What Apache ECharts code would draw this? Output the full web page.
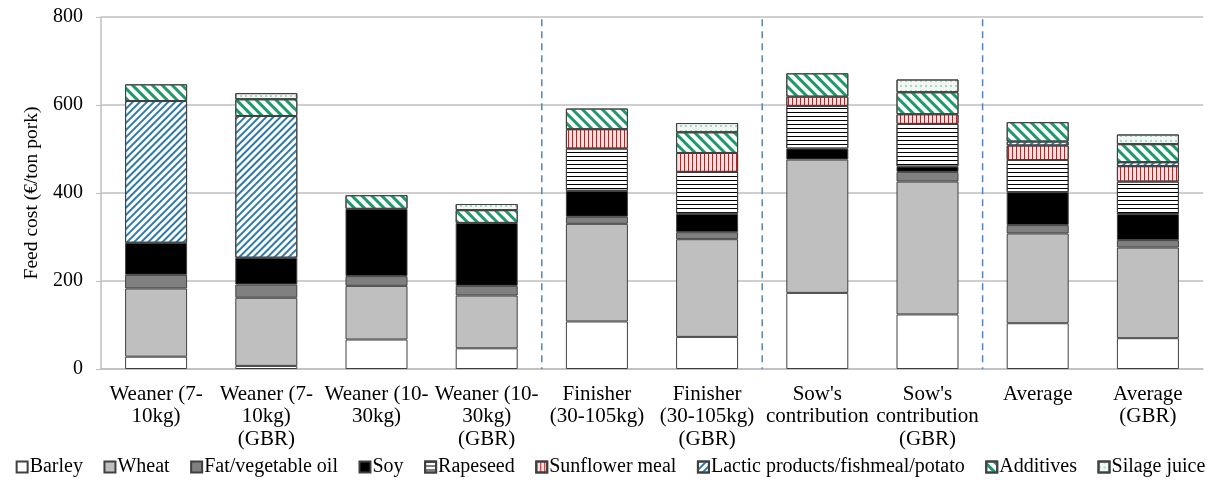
<!DOCTYPE html>
<html>
<head>
<meta charset="utf-8">
<script src="https://cdn.jsdelivr.net/npm/echarts@6/dist/echarts.min.js"></script>
<style>
  html, body { margin: 0; padding: 0; background: #fff; }
  #chart { width: 1221px; height: 480px; }
</style>
</head>
<body>
<div id="chart"></div>
<script>
// Feed cost per ton of pork, split by ingredient (€/ton pork)
const categories = [
  "Weaner (7-\n10kg)",
  "Weaner (7-\n10kg)\n(GBR)",
  "Weaner (10-\n30kg)",
  "Weaner (10-\n30kg)\n(GBR)",
  "Finisher\n(30-105kg)",
  "Finisher\n(30-105kg)\n(GBR)",
  "Sow's\ncontribution",
  "Sow's\ncontribution\n(GBR)",
  "Average",
  "Average\n(GBR)"
];

const barley     = [28, 7, 67, 47, 108, 73, 173, 124, 104, 70];
const wheat      = [155, 155, 122, 120, 222, 222, 303, 302, 204, 206];
const fatOil     = [31, 30, 22, 22, 16, 16, null, 22, 19, 17];
const soy        = [73, 61, 153, 143, 59, 42, 25, 12, 75, 59];
const rapeseed   = [null, null, null, null, 96, 95, 97, 97, 73, 74];
const sunflower  = [null, null, null, null, 44, 43, 21, 22, 33, 35];
const lactic     = [322, 322, null, null, null, null, null, null, 9, 9];
const additives  = [38, 38, 31, 29, 47, 47, 53, 50, 44, 41];
const silage     = [null, 14, null, 14, null, 21, null, 29, null, 22];

const yTicks = { min: 0, max: 800, interval: 200 };
// group separators sit between categories (index positions)
const dividers = [3.5, 5.5, 7.5];

const FONT = "Liberation Serif";
const EDGE = "#404040";

function stackSeries(name, data, color, decal) {
  const itemStyle = { color: color, borderColor: EDGE, borderWidth: 1 };
  if (decal) itemStyle.decal = decal;
  return {
    name: name,
    type: "bar",
    stack: "cost",
    barWidth: 62,
    data: data,
    itemStyle: itemStyle,
    emphasis: { disabled: true }
  };
}

const chart = echarts.init(document.getElementById("chart"));
chart.setOption({
  animation: false,
  textStyle: { fontFamily: FONT },
  grid: { left: 101, right: 18, top: 17, bottom: 111 },
  legend: {
    bottom: -2,
    left: "center",
    icon: "rect",
    itemWidth: 11,
    itemHeight: 11,
    itemGap: 20.5,
    textStyle: { fontFamily: FONT, fontSize: 20, color: "#000", padding: [0, 0, 0, -3] },
    data: ["Barley", "Wheat", "Fat/vegetable oil", "Soy", "Rapeseed", "Sunflower meal",
           "Lactic products/fishmeal/potato", "Additives", "Silage juice"]
  },
  xAxis: [
    {
      type: "category",
      data: categories,
      axisLine: { lineStyle: { color: "#bfbfbf", width: 1.5 } },
      axisTick: { show: false },
      axisLabel: {
        interval: 0,
        margin: 14,
        fontFamily: FONT,
        fontSize: 21,
        lineHeight: 22.5,
        color: "#000"
      }
    },
    { type: "value", min: -0.5, max: 9.5, show: false }
  ],
  yAxis: {
    type: "value",
    min: yTicks.min,
    max: yTicks.max,
    interval: yTicks.interval,
    name: "Feed cost (€/ton pork)",
    nameLocation: "middle",
    nameGap: 48,
    nameTextStyle: { fontFamily: FONT, fontSize: 19.5, color: "#000" },
    axisLine: { show: true, onZero: false, lineStyle: { color: "#bfbfbf", width: 1.5 } },
    axisTick: { show: true, length: 5, lineStyle: { color: "#bfbfbf" } },
    axisLabel: { fontFamily: FONT, fontSize: 20, color: "#000", margin: 18 },
    splitLine: { lineStyle: { color: "#bfbfbf", width: 1.5 } }
  },
  series: [
    stackSeries("Barley", barley, "#ffffff"),
    stackSeries("Wheat", wheat, "#bfbfbf"),
    stackSeries("Fat/vegetable oil", fatOil, "#808080"),
    stackSeries("Soy", soy, "#000000"),
    stackSeries("Rapeseed", rapeseed, "#ffffff", {
      symbol: "rect", color: "#000000",
      dashArrayX: [10, 0], dashArrayY: [1, 3], rotation: 0
    }),
    stackSeries("Sunflower meal", sunflower, "#f6e0e0", {
      symbol: "rect", color: "#a52a2a",
      dashArrayX: [1, 2.5], dashArrayY: [10, 0], rotation: 0
    }),
    stackSeries("Lactic products/fishmeal/potato", lactic, "#ffffff", {
      symbol: "rect", color: "#2f7aa8",
      dashArrayX: [10, 0], dashArrayY: [2, 2.5], rotation: -Math.PI / 4
    }),
    stackSeries("Additives", additives, "#ffffff", {
      symbol: "rect", color: "#1e9a6a",
      dashArrayX: [10, 0], dashArrayY: [2.5, 3.5], rotation: Math.PI / 4
    }),
    stackSeries("Silage juice", silage, "#f1f7f3", {
      symbol: "circle", color: "#3f9a7c", symbolSize: 0.7,
      dashArrayX: [2, 3], dashArrayY: [2, 3], rotation: 0
    }),
    {
      type: "custom",
      xAxisIndex: 1,
      silent: true,
      z: 1,
      data: dividers.map(function (d) { return [d, 0]; }),
      renderItem: function (params, api) {
        const top = api.coord([api.value(0), 795]);
        const bot = api.coord([api.value(0), 0]);
        return {
          type: "line",
          shape: { x1: top[0], y1: top[1], x2: bot[0], y2: bot[1] },
          style: { stroke: "#5585b5", lineWidth: 1.5, lineDash: [7, 5] }
        };
      }
    }
  ]
});
</script>
</body>
</html>
